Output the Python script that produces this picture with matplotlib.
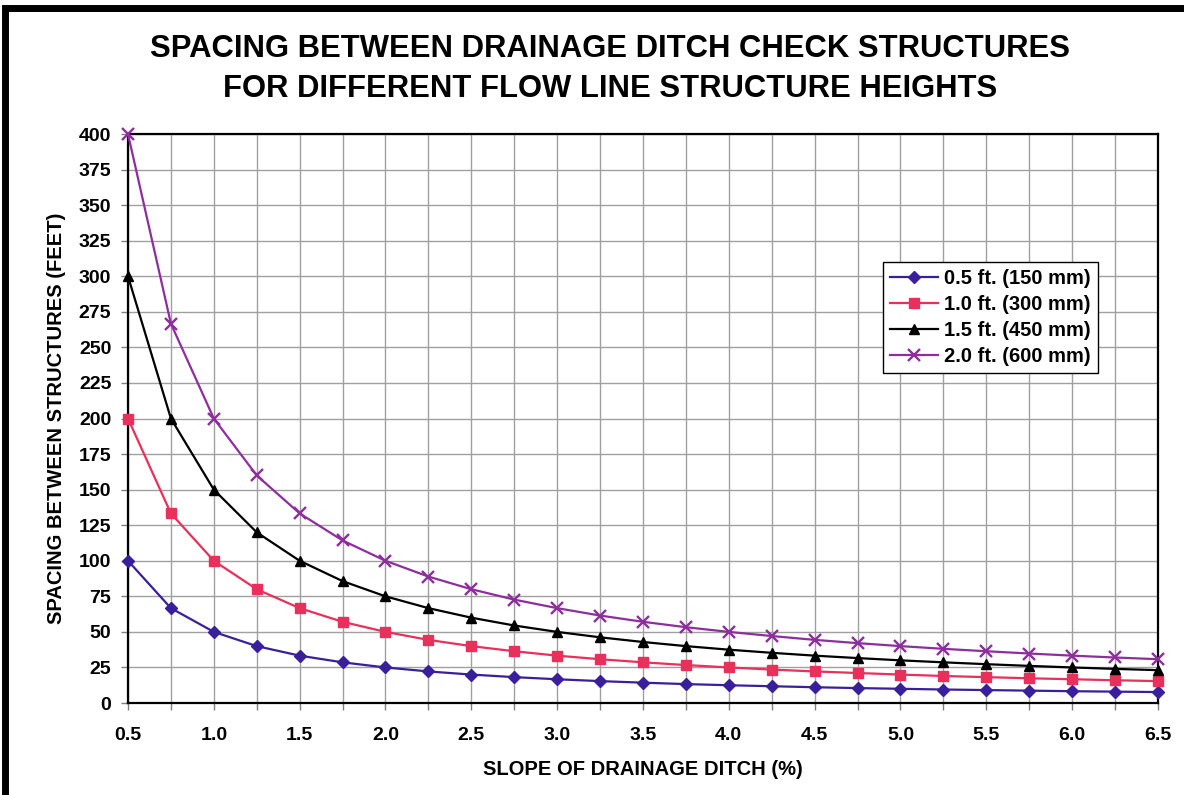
import matplotlib
matplotlib.use("Agg")
import matplotlib.pyplot as plt
from matplotlib.patches import Rectangle
from matplotlib.ticker import MultipleLocator

plt.rcParams["font.family"] = ["Liberation Sans", "DejaVu Sans"]
plt.rcParams["font.weight"] = "bold"

# ditch slope (%)
slopes = [0.5, 0.75, 1.0, 1.25, 1.5, 1.75, 2.0, 2.25, 2.5, 2.75, 3.0, 3.25, 3.5,
          3.75, 4.0, 4.25, 4.5, 4.75, 5.0, 5.25, 5.5, 5.75, 6.0, 6.25, 6.5]

# spacing between structures (feet)
spacing_05 = [100, 66.7, 50, 40, 33.3, 28.6, 25, 22.2, 20, 18.2, 16.7, 15.4, 14.3,
              13.3, 12.5, 11.8, 11.1, 10.5, 10, 9.5, 9.1, 8.7, 8.3, 8, 7.7]
spacing_10 = [200, 133.3, 100, 80, 66.7, 57.1, 50, 44.4, 40, 36.4, 33.3, 30.8, 28.6,
              26.7, 25, 23.5, 22.2, 21.1, 20, 19, 18.2, 17.4, 16.7, 16, 15.4]
spacing_15 = [300, 200, 150, 120, 100, 85.7, 75, 66.7, 60, 54.5, 50, 46.2, 42.9,
              40, 37.5, 35.3, 33.3, 31.6, 30, 28.6, 27.3, 26.1, 25, 24, 23.1]
spacing_20 = [400, 266.7, 200, 160, 133.3, 114.3, 100, 88.9, 80, 72.7, 66.7, 61.5, 57.1,
              53.3, 50, 47.1, 44.4, 42.1, 40, 38.1, 36.4, 34.8, 33.3, 32, 30.8]

x_tick_labels = ["0.5", "1.0", "1.5", "2.0", "2.5", "3.0", "3.5",
                 "4.0", "4.5", "5.0", "5.5", "6.0", "6.5"]

series = [
    ("0.5 ft. (150 mm)", spacing_05, "#3a1f9c", "D", 6.5),
    ("1.0 ft. (300 mm)", spacing_10, "#e8305a", "s", 7.5),
    ("1.5 ft. (450 mm)", spacing_15, "#000000", "^", 7.5),
    ("2.0 ft. (600 mm)", spacing_20, "#8e2e9e", "x", 8.5),
]

fig = plt.figure(figsize=(11.84, 7.95), dpi=100)

# thick black frame around the whole picture (right side is cut off)
fig.patches.append(Rectangle((0.004, -0.01), 1.2, 1.0, transform=fig.transFigure,
                             fill=False, edgecolor="black", linewidth=5))

ax = fig.add_axes([0.1081, 0.1157, 0.8699, 0.7157])

for label, values, color, marker, size in series:
    ax.plot(slopes, values, color=color, marker=marker, markersize=size,
            linewidth=1.6, label=label, markeredgewidth=1.7 if marker == "x" else 1,
            clip_on=False, zorder=3)

ax.set_xlim(0.5, 6.5)
ax.set_ylim(0, 400)
ax.xaxis.set_minor_locator(MultipleLocator(0.25))
ax.yaxis.set_major_locator(MultipleLocator(25))
ax.set_xticks([float(t) for t in x_tick_labels])
ax.set_xticklabels(x_tick_labels)

ax.grid(True, which="both", color="#a0a0a0", linewidth=1)
ax.set_axisbelow(True)
for side in ax.spines.values():
    side.set_linewidth(1.6)
    side.set_color("black")

ax.tick_params(axis="x", which="both", direction="out", length=5, width=1,
               color="#808080", pad=12, labelsize=14)
ax.tick_params(axis="y", direction="out", length=5, width=1, color="#808080",
               pad=7, labelsize=14)

ax.set_xlabel("SLOPE OF DRAINAGE DITCH (%)", fontsize=14.5, fontweight="bold",
              labelpad=12)
ax.set_ylabel("SPACING BETWEEN STRUCTURES (FEET)", fontsize=14.5, fontweight="bold",
              labelpad=9)

fig.text(0.515, 0.938, "SPACING BETWEEN DRAINAGE DITCH CHECK STRUCTURES",
         ha="center", va="center", fontsize=22.3, fontweight="bold")
fig.text(0.515, 0.888, "FOR DIFFERENT FLOW LINE STRUCTURE HEIGHTS",
         ha="center", va="center", fontsize=22.3, fontweight="bold")

legend = ax.legend(loc="upper left", bbox_to_anchor=(0.733, 0.775), fontsize=14.5,
                   frameon=True, fancybox=False, edgecolor="black", framealpha=1,
                   handlelength=2.4, handletextpad=0.3, borderpad=0.35,
                   labelspacing=0.35, borderaxespad=0)
legend.get_frame().set_linewidth(1)
for text in legend.get_texts():
    text.set_fontweight("bold")

fig.savefig("out.png", dpi=100)
